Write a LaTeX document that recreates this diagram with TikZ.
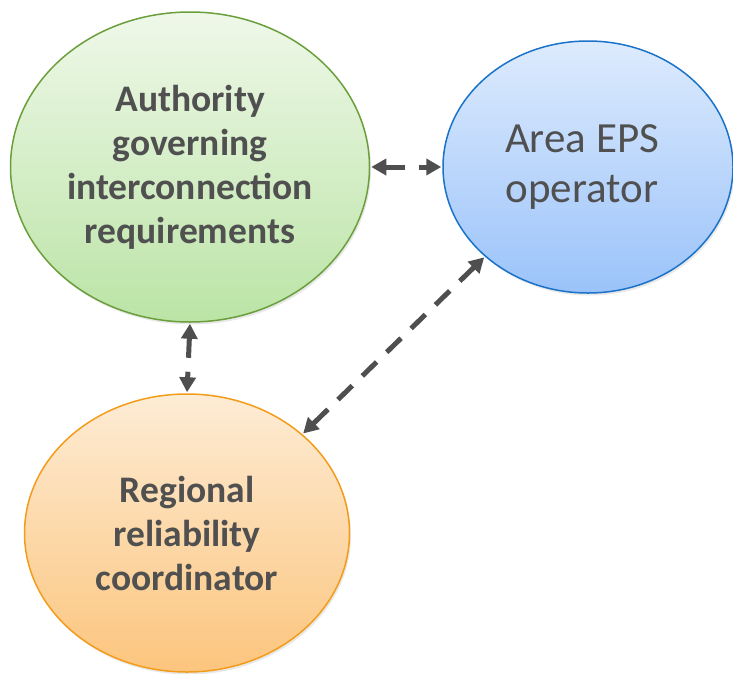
\documentclass[tikz,border=0pt]{standalone}
\usepackage{fontspec}
\setmainfont{Carlito}
\usetikzlibrary{shapes.geometric,arrows.meta,shadows}
\definecolor{txt}{HTML}{505050}
\definecolor{arr}{HTML}{4F4F4F}
\definecolor{gline}{HTML}{6A9F3C}
\definecolor{gtop}{RGB}{239,248,233}
\definecolor{gbot}{RGB}{187,228,166}
\definecolor{bline}{RGB}{26,115,200}
\definecolor{btop}{RGB}{221,235,253}
\definecolor{bbot}{RGB}{155,195,250}
\definecolor{oline}{RGB}{243,156,26}
\definecolor{otop}{RGB}{253,236,213}
\definecolor{obot}{RGB}{252,197,126}
\tikzset{
  bubble/.style={ellipse, inner sep=0pt, line width=1.5pt, align=center, text=txt,
    drop shadow={opacity=0.18, shadow xshift=1.5pt, shadow yshift=-2.5pt}},
  link/.style={draw=arr, line width=5pt, dash pattern=on 20pt off 14pt,
    {Triangle[length=15pt,width=16pt]}-{Triangle[length=15pt,width=16pt]}, shorten <=1pt, shorten >=1pt}
}
\begin{document}
\begin{tikzpicture}[x=1pt,y=-1pt]
\useasboundingbox (0,0) rectangle (733,673);
\node[bubble, minimum width=359pt, minimum height=310pt, draw=gline,
  top color=gtop, bottom color=gbot,
  font=\fontsize{37.5}{44}\selectfont\bfseries] (g) at (190,167)
  {Authority\\governing\\interconnection\\requirements};
\node[bubble, minimum width=290pt, minimum height=252pt, draw=bline,
  top color=btop, bottom color=bbot,
  font=\fontsize{43}{50}\selectfont] (b) at (588,167)
  {Area EPS\hspace*{12pt}\\operator\hspace*{12pt}};
\node[bubble, minimum width=325pt, minimum height=278pt, draw=oline,
  top color=otop, bottom color=obot,
  font=\fontsize{37.5}{44}\selectfont\bfseries] (o) at (187,533)
  {Regional\\reliability\\coordinator};
\draw[link] (g.east) -- (b.west);
\draw[link] (g.south) -- (o.north);
\draw[link] (b.south west) -- (o.north east);
\end{tikzpicture}
\end{document}
